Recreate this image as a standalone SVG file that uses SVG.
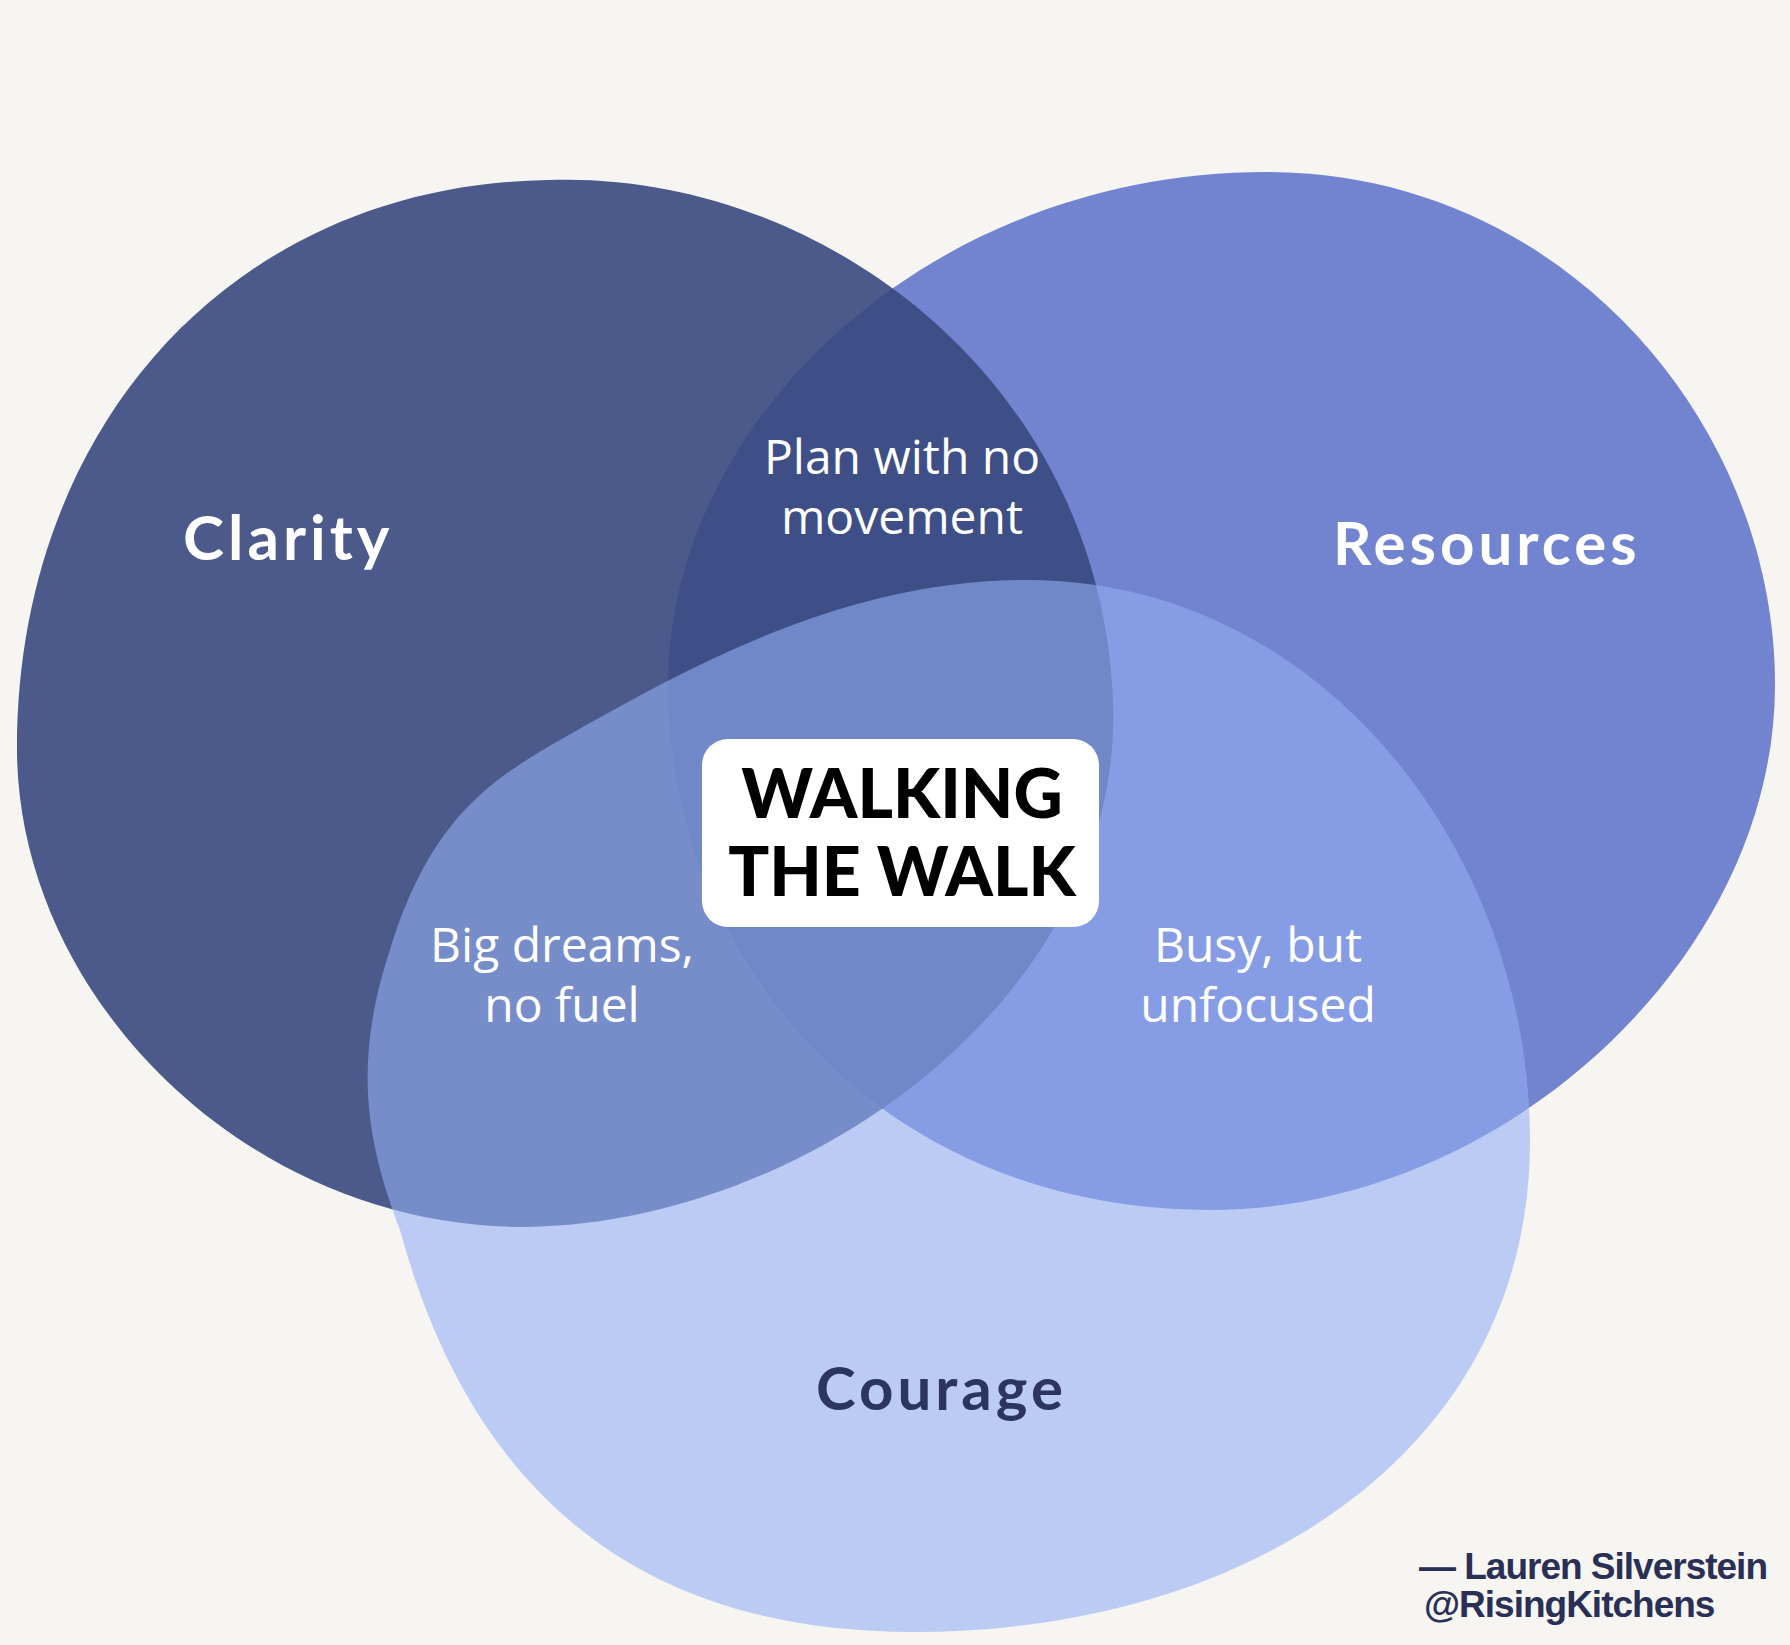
<svg xmlns="http://www.w3.org/2000/svg" width="1790" height="1645" viewBox="0 0 1790 1645">
<style>
.lbl{font-family:"Lato","Open Sans",sans-serif;font-weight:700;fill:#fff;letter-spacing:4px}
.sub{font-family:"Open Sans","Noto Sans",sans-serif;font-size:48px;fill:#fff;text-anchor:middle}
.big{font-family:"Lato","Noto Sans",sans-serif;font-weight:900;font-size:68px;fill:#000;text-anchor:middle}
.att{font-family:"Liberation Sans",Arial,sans-serif;font-weight:700;font-size:37px;fill:#2a2f55;letter-spacing:-1px}
</style>
<rect width="1790" height="1645" fill="#f6f5f2"/>
<g id="resources">
<path d="M 1267 172 C 1560 172 1775 420 1775 685 C 1775 960 1500 1210 1210 1210 C 880 1210 668 960 668 685 C 668 420 930 172 1267 172 Z" fill="#7283d0"/>
<text class="lbl" x="1333" y="565" font-size="60">Resources</text>
</g>
<g id="clarity">
<path d="M 548 180 C 820 170 1100 380 1113 700 C 1125 1000 800 1225 525 1227 C 250 1228 20 1000 17 753 C 15 430 230 185 548 180 Z" fill="#39497f" fill-opacity="0.9"/>
<text class="lbl" x="183" y="560" font-size="62">Clarity</text>
</g>
<g id="courage">
<path d="M 1027 580 C 1320 580 1530 850 1530 1141 C 1530 1450 1250 1632 913 1632 C 600 1632 460 1450 400 1230 C 370 1150 350 1070 390 950 C 430 820 490 780 560 740 C 700 660 850 580 1027 580 Z" fill="#95aff4" fill-opacity="0.6"/>
<text class="lbl" x="816" y="1410" font-size="60" style="fill:#2c3560">Courage</text>
</g>
<g id="overlaps">
<text class="sub" x="902" y="474">Plan with no</text>
<text class="sub" x="902" y="534">movement</text>
<text class="sub" x="562" y="962">Big dreams,</text>
<text class="sub" x="562" y="1022">no fuel</text>
<text class="sub" x="1258" y="962">Busy, but</text>
<text class="sub" x="1258" y="1022">unfocused</text>
</g>
<g id="center">
<rect x="702" y="739" width="397" height="188" rx="26" fill="#fff"/>
<text class="big" x="902" y="818">WALKING</text>
<text class="big" x="902" y="896">THE WALK</text>
</g>
<g id="attribution">
<text class="att" x="1767" y="1579" text-anchor="end">— Lauren Silverstein</text>
<text class="att" x="1424" y="1617">@RisingKitchens</text>
</g>
</svg>
